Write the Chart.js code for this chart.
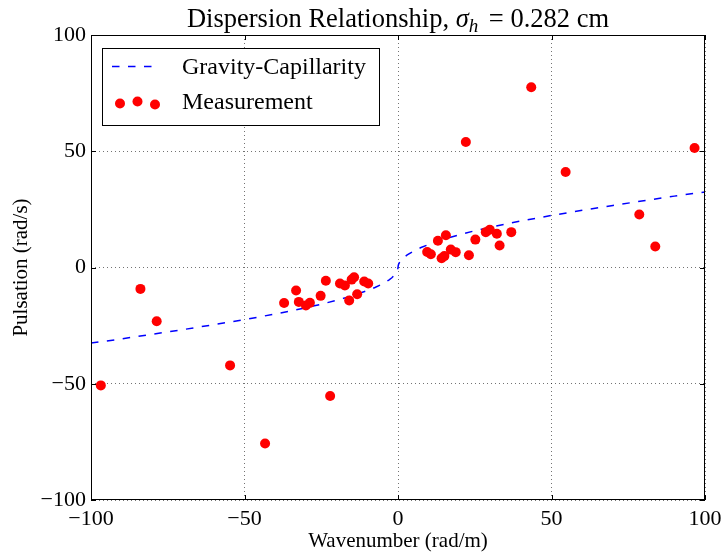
<!DOCTYPE html>
<html>
<head>
<meta charset="utf-8">
<script src="https://cdn.jsdelivr.net/npm/chart.js@4"></script>
<style>
  body { margin: 0; background: #fff; }
</style>
</head>
<body>
<canvas id="graph" width="721" height="554"></canvas>
<script>
const measK = [-96.8, -83.9, -78.6, -54.7, -43.3, -22.1, -37.1, -33.2, -32.3, -30.0, -28.7,
    -25.2, -23.5, -18.9, -17.3, -15.9, -15.1, -14.3, -13.3, -11.0, -9.7,
    43.4, 22.1, 96.6, 54.6, 78.6, 83.8, 9.5, 10.7, 13.0, 15.6, 14.2,
    15.1, 17.2, 18.8, 23.1, 25.2, 28.6, 29.9, 32.2, 33.1, 36.9];
const measW = [-50.7, -9.2, -23.1, -42.1, -75.7, -55.3, -15.3, -9.9, -14.8, -16.3, -15.2,
    -12.2, -5.7, -6.9, -7.7, -14.2, -5.2, -4.2, -11.5, -6.0, -6.9,
    77.5, 54.0, 51.4, 41.1, 22.8, 9.0, 6.7, 5.7, 11.5, 13.9, 4.0,
    4.9, 7.7, 6.6, 5.3, 12.0, 15.2, 16.2, 14.5, 9.5, 15.2];

// Courbe gravité-capillarité
const curveK = [-100, -90, -80, -70, -60, -50, -40, -30, -25, -20, -15, -10, -7.5, -5, -3, -2, -1,
    -0.5, -0.25, -0.1, 0, 0.1, 0.25, 0.5, 1, 2, 3, 5, 7.5, 10, 15, 20, 25, 30, 40, 50, 60, 70, 80, 90, 100];
const curveW = [-32.5, -30.7, -28.7, -26.7, -24.6, -22.4, -20.0, -17.3, -15.8, -14.1, -12.2, -9.9, -8.6, -7.0, -5.4, -4.4, -3.1,
    -2.2, -1.6, -1.0, 0, 1.0, 1.6, 2.2, 3.1, 4.4, 5.4, 7.0, 8.6, 9.9, 12.2, 14.1, 15.8, 17.3, 20.0, 22.4, 24.6, 26.7, 28.7, 30.7, 32.5];

const xTicks = [-100, -50, 0, 50, 100];
const yTicks = [-100, -50, 0, 50, 100];

const FONT = "'Liberation Serif', 'Times New Roman', serif";

function moins(v) {
    return String(v).replace('-', '\u2212');
}

// Titre avec sigma_h en italique
const titrePlugin = {
    id: 'titre',
    afterDraw(chart) {
        const c = chart.ctx;
        const partes = [
            { t: 'Dispersion Relationship, ', f: '26.5px ' + FONT, dy: 0, gap: 0 },
            { t: '\u03c3', f: 'italic 26.5px ' + FONT, dy: 0, gap: 0 },
            { t: 'h', f: 'italic 19px ' + FONT, dy: 5, gap: 4 },
            { t: ' = 0.282 cm', f: '26.5px ' + FONT, dy: 0, gap: 0 }
        ];
        let total = 0;
        partes.forEach(p => { c.font = p.f; p.w = c.measureText(p.t).width + p.gap; total += p.w; });
        const cx = (chart.chartArea.left + chart.chartArea.right) / 2;
        let x = cx - total / 2;
        c.save();
        c.fillStyle = '#000';
        c.textBaseline = 'alphabetic';
        c.textAlign = 'left';
        partes.forEach(p => {
            c.font = p.f;
            c.fillText(p.t, x, 27 + p.dy);
            x += p.w;
        });
        c.restore();
    }
};

// Cadre, ticks internes et légende
const cadrePlugin = {
    id: 'cadre',
    afterDraw(chart) {
        const c = chart.ctx;
        const a = chart.chartArea;
        const sx = chart.scales.x, sy = chart.scales.y;
        c.save();
        c.strokeStyle = '#000';
        c.lineWidth = 1;
        c.strokeRect(a.left + 0.5, a.top + 0.5, a.right - a.left - 1, a.bottom - a.top - 1);
        c.beginPath();
        xTicks.forEach(v => {
            const px = Math.round(sx.getPixelForValue(v)) + 0.5;
            c.moveTo(px, a.bottom); c.lineTo(px, a.bottom - 5);
            c.moveTo(px, a.top); c.lineTo(px, a.top + 5);
        });
        yTicks.forEach(v => {
            const py = Math.round(sy.getPixelForValue(v)) + 0.5;
            c.moveTo(a.left, py); c.lineTo(a.left + 5, py);
            c.moveTo(a.right, py); c.lineTo(a.right - 5, py);
        });
        c.stroke();

        // légende
        c.fillStyle = '#fff';
        c.fillRect(102, 48, 278, 78);
        c.strokeRect(102.5, 48.5, 277, 77);
        c.strokeStyle = '#0000ff';
        c.lineWidth = 1.5;
        c.setLineDash([7.5, 8.5]);
        c.beginPath();
        c.moveTo(112, 66.5); c.lineTo(156, 66.5);
        c.stroke();
        c.setLineDash([]);
        c.fillStyle = '#ff0000';
        [[120, 103.5], [137.5, 101.5], [155, 104.5]].forEach(p => {
            c.beginPath(); c.arc(p[0], p[1], 5, 0, Math.PI * 2); c.fill();
        });
        c.fillStyle = '#000';
        c.font = '24px ' + FONT;
        c.textBaseline = 'middle';
        c.fillText('Gravity-Capillarity', 182, 68);
        c.fillText('Measurement', 182, 103);
        c.restore();
    }
};

const ctx = document.getElementById('graph').getContext('2d');

const data = {
    datasets: [{
        label: 'Measurement',
        type: 'scatter',
        data: measK.map((k, i) => ({ x: k, y: measW[i] })),
        backgroundColor: '#ff0000',
        borderWidth: 0,
        pointRadius: 5,
        order: 0
    }, {
        label: 'Gravity-Capillarity',
        type: 'line',
        data: curveK.map((k, i) => ({ x: k, y: curveW[i] })),
        borderColor: '#0000ff',
        borderWidth: 1.5,
        borderDash: [7.5, 8.5],
        pointRadius: 0,
        fill: false,
        tension: 0,
        order: 1
    }]
};

const config = {
    type: 'scatter',
    data: data,
    options: {
        responsive: false,
        animation: false,
        layout: { padding: { top: 35, right: 16, left: 0, bottom: 0 } },
        plugins: {
            legend: { display: false },
            tooltip: { enabled: false }
        },
        scales: {
            x: {
                type: 'linear',
                min: -100, max: 100,
                afterFit(s) { s.height = 54; s.paddingLeft = 0; s.paddingRight = 0; },
                afterBuildTicks(s) { s.ticks = xTicks.map(v => ({ value: v })); },
                grid: { color: 'rgba(0,0,0,0.55)', drawTicks: false },
                border: { display: false, dash: [1, 3] },
                ticks: {
                    padding: 6,
                    color: '#000',
                    font: { family: FONT, size: 22 },
                    callback: v => moins(v)
                },
                title: {
                    display: true,
                    text: 'Wavenumber (rad/m)',
                    color: '#000',
                    font: { family: FONT, size: 21 },
                    padding: { top: 0, bottom: 0 }
                }
            },
            y: {
                type: 'linear',
                min: -100, max: 100,
                afterFit(s) { s.width = 91; s.paddingTop = 0; s.paddingBottom = 0; },
                afterBuildTicks(s) { s.ticks = yTicks.map(v => ({ value: v })); },
                grid: { color: 'rgba(0,0,0,0.55)', drawTicks: false },
                border: { display: false, dash: [1, 3] },
                ticks: {
                    padding: 5,
                    color: '#000',
                    font: { family: FONT, size: 22 },
                    callback: v => moins(v)
                },
                title: {
                    display: true,
                    text: 'Pulsation (rad/s)',
                    color: '#000',
                    font: { family: FONT, size: 21 },
                    padding: { top: 9, bottom: 0 }
                }
            }
        }
    },
    plugins: [titrePlugin, cadrePlugin]
};

const myChart = new Chart(ctx, config);
</script>
</body>
</html>
